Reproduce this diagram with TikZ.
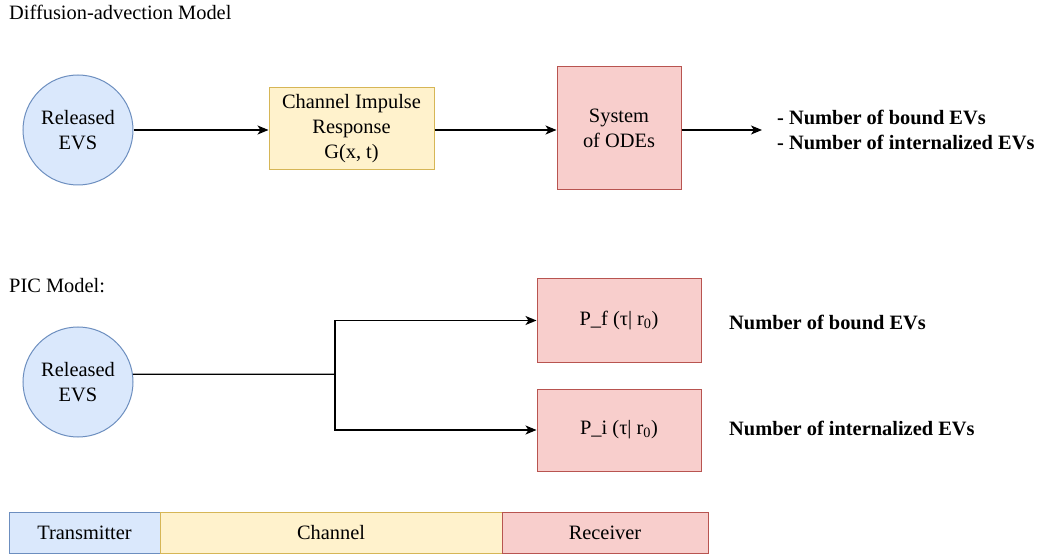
\documentclass[tikz,border=0pt]{standalone}
\usepackage{fontspec}
\setmainfont{Liberation Serif}
\usetikzlibrary{arrows.meta,calc}
\definecolor{bluefill}{HTML}{DAE8FC}
\definecolor{bluedraw}{HTML}{6C8EBF}
\definecolor{yelfill}{HTML}{FFF2CC}
\definecolor{yeldraw}{HTML}{D6B656}
\definecolor{redfill}{HTML}{F8CECC}
\definecolor{reddraw}{HTML}{B85450}
\tikzset{
  txt/.style={font=\fontsize{20.4}{25}\selectfont, inner sep=0pt},
  bold/.style={font=\fontsize{20.4}{25}\selectfont\bfseries, inner sep=0pt, align=left},
  evs/.style={circle, draw=bluedraw, fill=bluefill, line width=1pt, minimum size=110pt, inner sep=0pt, align=center, font=\fontsize{20.4}{25}\selectfont},
  chanbox/.style={rectangle, draw=yeldraw, fill=yelfill, line width=1pt, inner sep=0pt, align=center, font=\fontsize{20.4}{25}\selectfont},
  recbox/.style={rectangle, draw=reddraw, fill=redfill, line width=1pt, inner sep=0pt, align=center, font=\fontsize{20.4}{25}\selectfont},
  txbox/.style={rectangle, draw=bluedraw, fill=bluefill, line width=1pt, inner sep=0pt, align=center, font=\fontsize{20.4}{25}\selectfont},
  arr/.style={-{Stealth[length=11pt,width=9pt,inset=3pt]}, line width=1.2pt},
  conn/.style={line width=1.2pt},
}
\begin{document}
\begin{tikzpicture}[x=1pt,y=-1pt]
\useasboundingbox (0,0) rectangle (1045,556);
% Diffusion-advection model
\node[txt, anchor=base west] (t1) at (9,20) {Diffusion-advection Model};
\node[evs] (c1) at (78,130) {Released\\EVS};
\node[chanbox, minimum width=165pt, minimum height=82pt] (chan) at (351.5,129) {Channel Impulse\\Response\\G(x, t)};
\node[recbox, minimum width=124pt, minimum height=123pt] (sys) at (619,128.5) {System\\of ODEs};
\coordinate (outend) at (762,130);
\node[bold, anchor=west] (out1) at (777,130) {- Number of bound EVs\\- Number of internalized EVs};
\draw[arr] (c1.east) -- (chan.west |- c1.east);
\draw[arr] (chan.east |- c1.east) -- (sys.west |- c1.east);
\draw[arr] (sys.east |- c1.east) -- (outend);
% PIC model
\node[txt, anchor=base west] (t2) at (9,293) {PIC Model:};
\node[evs] (c2) at (78,382) {Released\\EVS};
\node[recbox, minimum width=164pt, minimum height=83pt] (pf) at (619,320.5) {P\_f (τ| r\textsubscript{0})};
\node[recbox, minimum width=164pt, minimum height=82pt] (pi) at (619,430) {P\_i (τ| r\textsubscript{0})};
\node[bold, anchor=west] (l1) at (729,322) {Number of bound EVs};
\node[bold, anchor=west] (l2) at (729,428) {Number of internalized EVs};
\coordinate (j) at (335,374.3);
\draw[conn] (c2.8) -- (j);
\draw[arr] (j) |- (pf.west);
\draw[arr] (j) |- (pi.west);
% legend bar
\node[txbox, minimum width=151pt, minimum height=41pt] (tx) at (84.5,532.5) {Transmitter};
\node[chanbox, minimum width=342pt, minimum height=41pt] (ch) at (331,532.5) {Channel};
\node[recbox, minimum width=206pt, minimum height=41pt] (rx) at (605,532.5) {Receiver};
\end{tikzpicture}
\end{document}
